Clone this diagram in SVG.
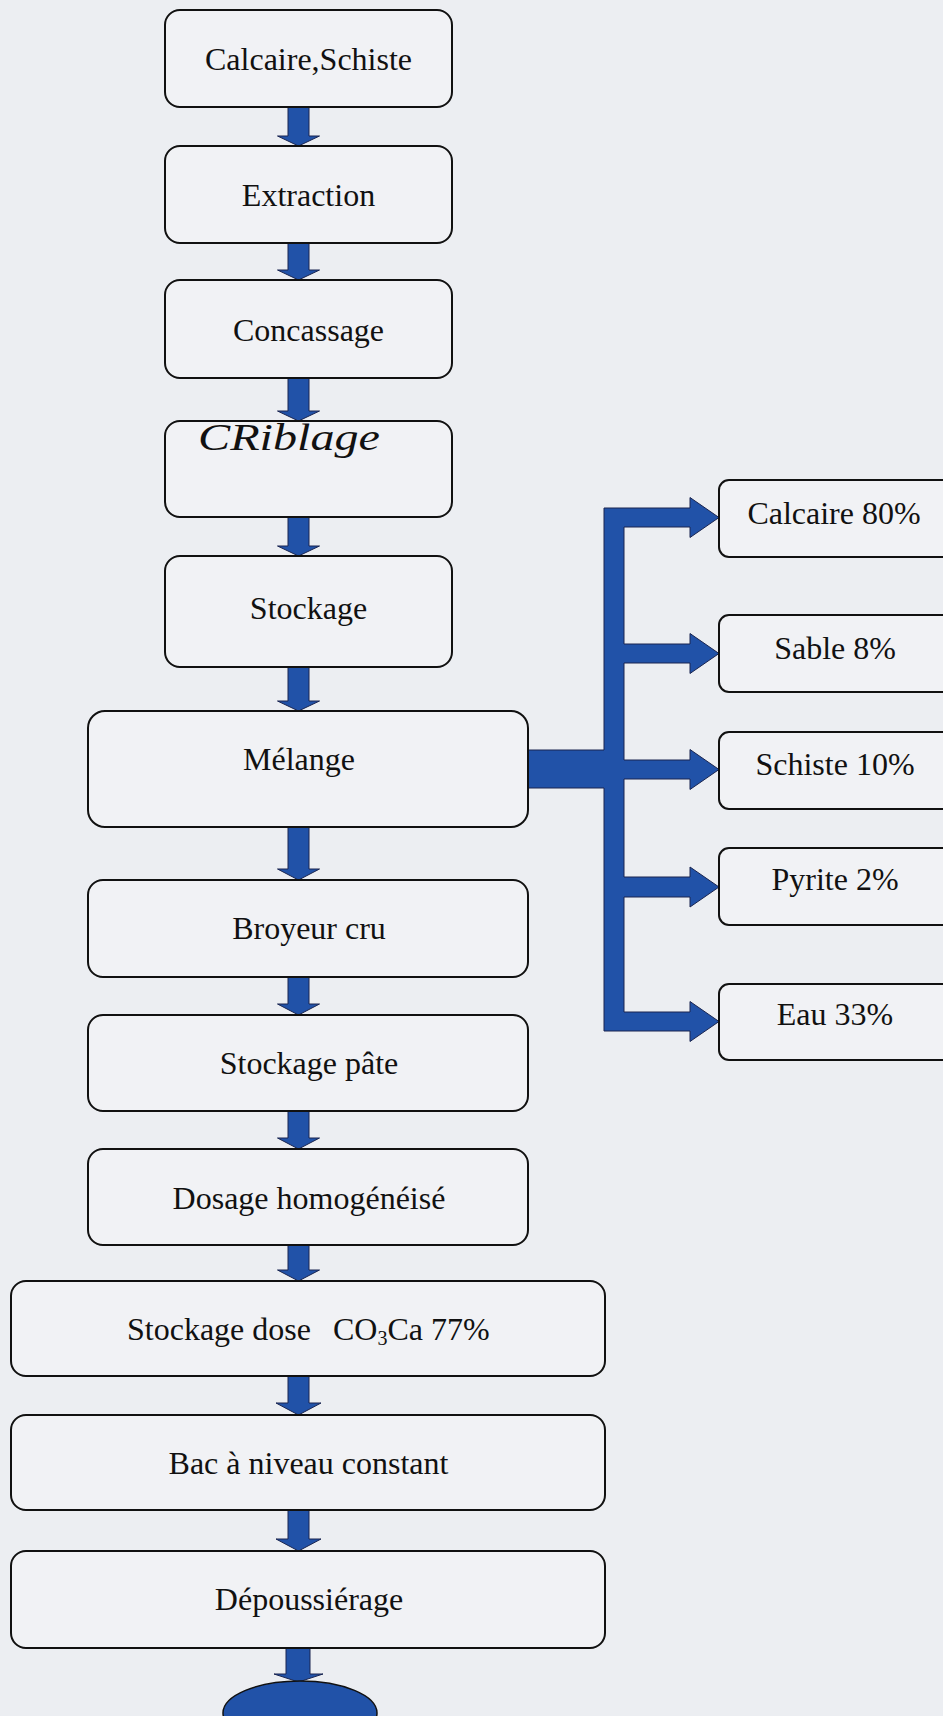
<svg xmlns="http://www.w3.org/2000/svg" width="943" height="1716" viewBox="0 0 943 1716">
<style>
.box{fill:#f1f2f5;stroke:#111;stroke-width:2}
.lbl{font-family:"Liberation Serif","Times New Roman",serif;font-size:32px;fill:#111;text-anchor:middle}
.arr{fill:#2152a8;stroke:#1a2550;stroke-width:1}
.hand{font-family:"Liberation Serif","Times New Roman",serif;font-style:italic;font-size:38px;fill:#111}
</style>
<rect width="943" height="1716" fill="#eceef2"/>
<g id="connectors">
<polygon class="arr" points="288,107 309,107 309,136 319.5,136 298.5,146 277.5,136 288,136"/>
<polygon class="arr" points="288,243 309,243 309,270 319.5,270 298.5,280 277.5,270 288,270"/>
<polygon class="arr" points="288,378 309,378 309,411 319.5,411 298.5,421 277.5,411 288,411"/>
<polygon class="arr" points="288,517 309,517 309,546 319.5,546 298.5,556 277.5,546 288,546"/>
<polygon class="arr" points="288,667 309,667 309,701 319.5,701 298.5,711 277.5,701 288,701"/>
<polygon class="arr" points="288,827 309,827 309,869 319.5,869 298.5,880 277.5,869 288,869"/>
<polygon class="arr" points="288,977 309,977 309,1004 319.5,1004 298.5,1015 277.5,1004 288,1004"/>
<polygon class="arr" points="288,1111 309,1111 309,1138 319.5,1138 298.5,1149 277.5,1138 288,1138"/>
<polygon class="arr" points="288,1245 309,1245 309,1270 319.5,1270 298.5,1281 277.5,1270 288,1270"/>
<polygon class="arr" points="288,1376 309,1376 309,1403 321,1403 298.5,1415 276,1403 288,1403"/>
<polygon class="arr" points="288,1510 309,1510 309,1539 321,1539 298.5,1551 276,1539 288,1539"/>
<polygon class="arr" points="286,1648 310,1648 310,1674 323,1674 298.5,1682 274,1674 286,1674"/>
<path class="arr" d="M604,508 H690 V497.5 L719,517.5 L690,537.5 V527 H624 V644 H690 V633.5 L719,653.5 L690,673.5 V663 H624 V760 H690 V749.5 L719,769.5 L690,789.5 V779 H624 V877 H690 V867 L719,887 L690,907 V897 H624 V1012 H690 V1001.5 L719,1021.5 L690,1041.5 V1031 H604 V788 H528 V750 H604 Z"/>
</g>
<g id="n1"><rect class="box" x="165" y="10" width="287" height="97" rx="15"/><text class="lbl" x="308.5" y="70">Calcaire,Schiste</text></g>
<g id="n2"><rect class="box" x="165" y="146" width="287" height="97" rx="15"/><text class="lbl" x="308.5" y="206">Extraction</text></g>
<g id="n3"><rect class="box" x="165" y="280" width="287" height="98" rx="15"/><text class="lbl" x="308.5" y="341">Concassage</text></g>
<g id="n4"><rect class="box" x="165" y="421" width="287" height="96" rx="15"/><text class="hand" x="198" y="450" textLength="182" lengthAdjust="spacingAndGlyphs">CRiblage</text></g>
<g id="n5"><rect class="box" x="165" y="556" width="287" height="111" rx="15"/><text class="lbl" x="308.5" y="619">Stockage</text></g>
<g id="n6"><rect class="box" x="88" y="711" width="440" height="116" rx="17"/><text class="lbl" x="299" y="770">Mélange</text></g>
<g id="n7"><rect class="box" x="88" y="880" width="440" height="97" rx="15"/><text class="lbl" x="309" y="939">Broyeur cru</text></g>
<g id="n8"><rect class="box" x="88" y="1015" width="440" height="96" rx="15"/><text class="lbl" x="309" y="1074">Stockage pâte</text></g>
<g id="n9"><rect class="box" x="88" y="1149" width="440" height="96" rx="15"/><text class="lbl" x="309" y="1209">Dosage homogénéisé</text></g>
<g id="n10"><rect class="box" x="11" y="1281" width="594" height="95" rx="15"/><text class="lbl" style="text-anchor:start" x="127" y="1340">Stockage dose<tspan x="333">CO</tspan><tspan font-size="20" dy="5">3</tspan><tspan dy="-5">Ca 77%</tspan></text></g>
<g id="n11"><rect class="box" x="11" y="1415" width="594" height="95" rx="15"/><text class="lbl" x="308.5" y="1474">Bac à niveau constant</text></g>
<g id="n12"><rect class="box" x="11" y="1551" width="594" height="97" rx="15"/><text class="lbl" x="309" y="1610">Dépoussiérage</text></g>
<g id="n13"><ellipse cx="300" cy="1713" rx="77" ry="32" fill="#2152a8" stroke="#111" stroke-width="1.5"/></g>
<g id="r1"><rect class="box" x="719" y="480" width="240" height="77" rx="10"/><text class="lbl" x="834" y="524">Calcaire 80%</text></g>
<g id="r2"><rect class="box" x="719" y="615" width="240" height="77" rx="10"/><text class="lbl" x="835" y="659">Sable 8%</text></g>
<g id="r3"><rect class="box" x="719" y="732" width="240" height="77" rx="10"/><text class="lbl" x="835" y="775">Schiste 10%</text></g>
<g id="r4"><rect class="box" x="719" y="848" width="240" height="77" rx="10"/><text class="lbl" x="835" y="890">Pyrite 2%</text></g>
<g id="r5"><rect class="box" x="719" y="984" width="240" height="76" rx="10"/><text class="lbl" x="835" y="1025">Eau 33%</text></g>
</svg>
